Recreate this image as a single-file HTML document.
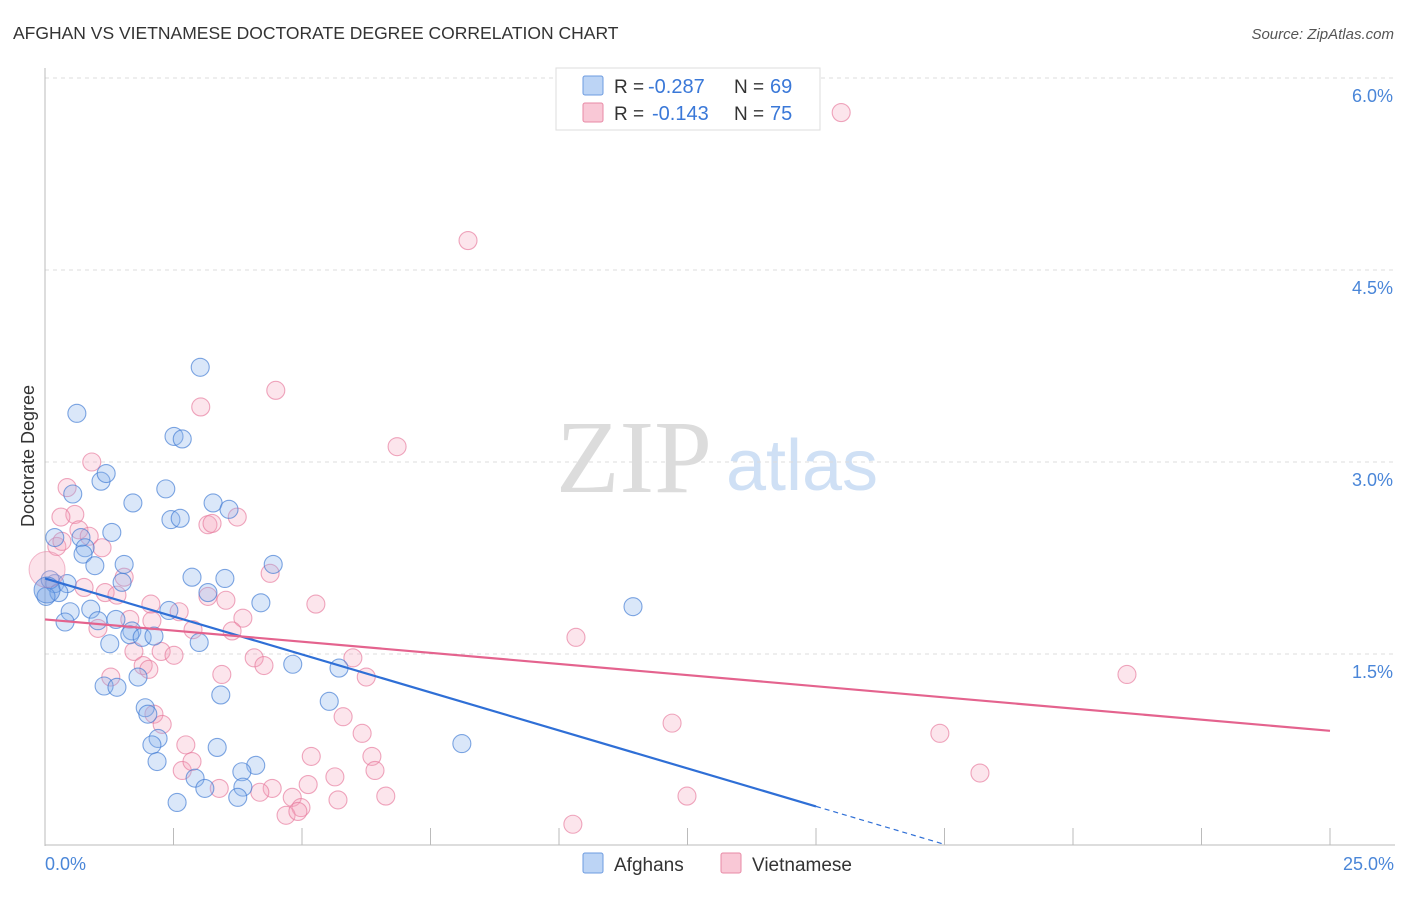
<!DOCTYPE html>
<html><head><meta charset="utf-8"><style>
body{margin:0;background:#fff;font-family:"Liberation Sans",sans-serif}
</style></head><body>
<svg id="chart" width="1406" height="892" xmlns="http://www.w3.org/2000/svg">
<text x="13" y="39" font-size="17.5" fill="#333">AFGHAN VS VIETNAMESE DOCTORATE DEGREE CORRELATION CHART</text>
<text x="1394" y="39" font-size="15" fill="#555" font-style="italic" text-anchor="end">Source: ZipAtlas.com</text>
<text x="634" y="492" font-size="104" fill="#dcdcdc" text-anchor="middle" font-family="Liberation Serif,serif">ZIP</text>
<text x="802" y="490" font-size="72" fill="#cfe0f5" text-anchor="middle">atlas</text>
<g id="grid"></g>
<g id="axes"></g>
<g id="pts"></g>
<g id="trends"></g>
<text transform="translate(34,456) rotate(-90)" font-size="18" fill="#333" text-anchor="middle">Doctorate Degree</text>
<g>
<rect x="556" y="68" width="264" height="62" fill="#fff" stroke="#ddd"/>
<rect x="583" y="76" width="20" height="19" fill="#bcd4f5" stroke="#6d9be0" rx="2"/>
<rect x="583" y="103" width="20" height="19" fill="#f9c8d6" stroke="#e88aa6" rx="2"/>
<text x="614" y="93" font-size="19" fill="#333">R =</text>
<text x="648" y="93" font-size="20" fill="#3a78d8">-0.287</text>
<text x="734" y="93" font-size="19" fill="#333">N =</text>
<text x="770" y="93" font-size="20" fill="#3a78d8">69</text>
<text x="614" y="120" font-size="19" fill="#333">R =</text>
<text x="652" y="120" font-size="20" fill="#3a78d8">-0.143</text>
<text x="734" y="120" font-size="19" fill="#333">N =</text>
<text x="770" y="120" font-size="20" fill="#3a78d8">75</text>
</g>
<g>
<rect x="583" y="853" width="20" height="20" fill="#bcd4f5" stroke="#6d9be0" rx="2"/>
<text x="614" y="871" font-size="19" fill="#333">Afghans</text>
<rect x="721" y="853" width="20" height="20" fill="#f9c8d6" stroke="#e88aa6" rx="2"/>
<text x="752" y="871" font-size="19" fill="#333">Vietnamese</text>
</g>
</svg>
<script>
const yTicks=[1.5,3.0,4.5,6.0];
const xTickVals=[0,2.5,5,7.5,10,12.5,15,17.5,20,22.5,25];
const xLabels=["0.0%","25.0%"];
const blueX=[3.02,0.62,2.51,2.67,1.09,0.54,1.19,2.35,1.71,3.27,3.58,2.45,2.63,1.30,0.19,0.70,0.78,0.74,1.54,0.97,4.44,2.86,3.50,1.50,0.19,0.43,0.27,0.02,4.20,0.89,0.49,2.41,11.44,3.17,1.03,0.39,1.38,1.69,1.65,1.89,2.12,3.00,1.26,4.82,5.72,1.81,3.42,1.15,1.40,5.53,1.95,2.00,2.20,2.08,8.11,3.35,2.18,4.10,3.83,2.92,3.85,3.11,3.75,2.57,0.10];
const blueY=[3.74,3.38,3.20,3.18,2.85,2.75,2.91,2.79,2.68,2.68,2.63,2.55,2.56,2.45,2.41,2.41,2.33,2.28,2.20,2.19,2.20,2.10,2.09,2.06,2.05,2.05,1.98,1.95,1.90,1.85,1.83,1.84,1.87,1.98,1.76,1.75,1.77,1.68,1.65,1.63,1.64,1.59,1.58,1.42,1.39,1.32,1.18,1.25,1.24,1.13,1.08,1.03,0.84,0.79,0.80,0.77,0.66,0.63,0.58,0.53,0.46,0.45,0.38,0.34,2.08];
const pinkX=[15.49,8.23,4.49,3.03,6.85,0.91,0.43,0.58,0.31,0.66,0.86,0.23,0.33,1.11,3.74,3.17,3.25,4.38,1.54,0.76,1.17,1.40,3.17,3.52,5.27,2.06,2.61,1.65,1.03,3.85,2.08,2.88,3.64,10.33,1.73,2.26,4.07,2.51,4.26,5.99,1.91,3.44,6.25,1.28,2.02,21.05,12.20,5.80,2.12,2.28,17.41,6.17,5.18,6.36,2.74,2.67,2.86,6.42,18.19,5.64,5.12,4.42,3.39,4.18,4.81,5.70,6.63,12.49,4.98,4.69,4.92,10.27];
const pinkY=[5.73,4.73,3.56,3.43,3.12,3.00,2.80,2.59,2.57,2.47,2.42,2.34,2.38,2.33,2.57,2.51,2.52,2.13,2.10,2.02,1.98,1.96,1.95,1.92,1.89,1.89,1.83,1.77,1.70,1.78,1.76,1.69,1.68,1.63,1.52,1.52,1.47,1.49,1.41,1.47,1.41,1.34,1.32,1.32,1.38,1.34,0.96,1.01,1.03,0.95,0.88,0.88,0.70,0.70,0.79,0.59,0.66,0.59,0.57,0.54,0.48,0.45,0.45,0.42,0.38,0.36,0.39,0.39,0.30,0.24,0.27,0.17];
const bigBlue=[[0.04,2.00]];
const bigPink=[[0.04,2.16]];
const blueTrend=[2.09,-0.1187];
const pinkTrend=[1.77,-0.0348];
const NS="http://www.w3.org/2000/svg";
const X=v=>45+v/25*1285, Y=v=>846-v*128;
function mk(p,t,a){const e=document.createElementNS(NS,t);for(const k in a)e.setAttribute(k,a[k]);p.appendChild(e);return e;}
const grid=document.getElementById('grid'),axes=document.getElementById('axes'),pts=document.getElementById('pts'),tr=document.getElementById('trends');
yTicks.forEach(v=>{
 const l=mk(grid,'line',{x1:45,x2:1395,y1:Y(v),y2:Y(v),stroke:'#ddd','stroke-dasharray':'4,4'});
 
 
 const t=mk(grid,'text',{x:1393,y:Y(v)+24,'font-size':18,fill:'#4a86d8','text-anchor':'end'});
 t.textContent=v.toFixed(1)+'%';
 
 
});
const ya=mk(axes,'line',{x1:45,x2:45,y1:68,y2:846,stroke:'#bbb'});


const xa=mk(axes,'line',{x1:45,x2:1395,y1:845,y2:845,stroke:'#bbb'});


xTickVals.forEach(v=>{const t=mk(axes,'line',{x1:X(v),x2:X(v),y1:828,y2:845,stroke:'#bbb'});
 
 });
[[0,xLabels[0],'start',45],[25,xLabels[1],'end',1394]].forEach(d=>{const t=mk(axes,'text',{x:d[3],y:870,'font-size':18,fill:'#4a86d8','text-anchor':d[2]});t.textContent=d[1];
 
 });
function dots(xs,ys,f,s,name,r){xs.forEach((x,i)=>{const c=mk(pts,'circle',{cx:X(x),cy:Y(ys[i]),r:r,fill:f,stroke:s,'stroke-width':1.1});
 
 });}
dots(pinkX,pinkY,'rgba(244,160,185,0.28)','rgba(230,120,155,0.65)','vietnamese-point',9);
dots(blueX,blueY,'rgba(140,180,235,0.32)','rgba(60,120,210,0.65)','afghan-point',9);
bigPink.forEach(p=>{const c=mk(pts,'circle',{cx:X(p[0]),cy:Y(p[1]),r:18,fill:'rgba(244,160,185,0.3)',stroke:'rgba(230,120,155,0.5)'});
 
 });
bigBlue.forEach(p=>{const c=mk(pts,'circle',{cx:X(p[0]),cy:Y(p[1]),r:13,fill:'rgba(100,150,225,0.4)',stroke:'rgba(60,120,210,0.65)'});
 
 });
const bl=mk(tr,'line',{x1:X(0),y1:Y(blueTrend[0]),x2:X(15),y2:Y(blueTrend[0]+15*blueTrend[1]),stroke:'#2f6fd6','stroke-width':2.2});


const bd=mk(tr,'line',{x1:X(15),y1:Y(blueTrend[0]+15*blueTrend[1]),x2:X(17.5),y2:Y(blueTrend[0]+17.5*blueTrend[1]),stroke:'#2f6fd6','stroke-width':1.2,'stroke-dasharray':'5,4'});


const pl=mk(tr,'line',{x1:X(0),y1:Y(pinkTrend[0]),x2:X(25),y2:Y(pinkTrend[0]+25*pinkTrend[1]),stroke:'#e4638e','stroke-width':2.2});


</script>
</body></html>
